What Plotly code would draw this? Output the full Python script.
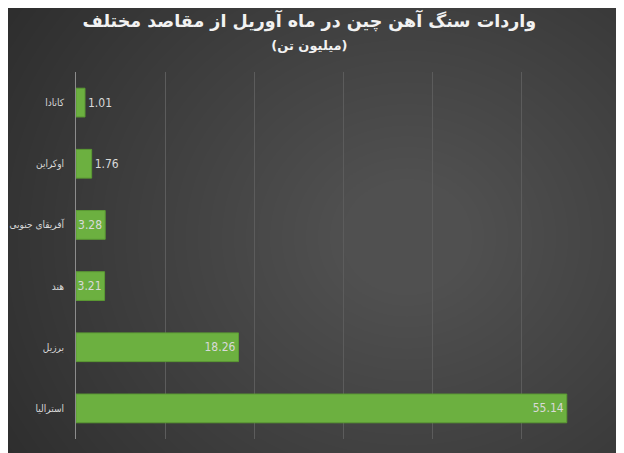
import plotly.graph_objects as go

# countries listed top to bottom as in the chart
countries = ["کانادا", "اوکراین", "آفریقای جنوبی", "هند", "برزیل", "استرالیا"]
imports_mt = [1.01, 1.76, 3.28, 3.21, 18.26, 55.14]
label_pos = ["outside", "outside", "inside", "inside", "inside", "inside"]

TITLE = "واردات سنگ آهن چین در ماه آوریل از مقاصد مختلف"
SUBTITLE = "(میلیون تن)"

FONT = "DejaVu Sans Condensed, DejaVu Sans"

fig = go.Figure()
fig.add_trace(go.Bar(
    x=imports_mt,
    y=countries,
    orientation="h",
    marker=dict(color="#6cb040", line=dict(color="#5b9a33", width=1)),
    text=[f"{v:.2f}" for v in imports_mt],
    textposition=label_pos,
    textangle=0,
    constraintext="none",
    insidetextanchor="end",
    textfont=dict(color="#d9d9d9", size=12, family=FONT),
    outsidetextfont=dict(color="#d9d9d9", size=12, family=FONT),
    cliponaxis=False,
))

"""
background - fake radial gradient with stacked soft circles
"""
shapes = []
n = 40
for i in range(n):
    r = 1.0 - i * 0.9 / n
    shapes.append(dict(
        type="circle", xref="paper", yref="paper", layer="below",
        x0=0.62 - r, x1=0.62 + r, y0=0.55 - r * 1.3, y1=0.55 + r * 1.3,
        fillcolor="rgba(255,255,255,0.0065)", line=dict(width=0),
    ))

fig.update_layout(
    width=624,
    height=453,
    autosize=False,
    paper_bgcolor="#282828",
    plot_bgcolor="rgba(0,0,0,0)",
    shapes=shapes,
    # page seems to sit ~7px off, so margins are nudged
    margin=dict(l=68, r=22, t=64, b=22),
    title=dict(
        text=f"<b>{TITLE}</b><br><span style='font-size:13px'><b>{SUBTITLE}</b></span>",
        x=0.483, xanchor="center", y=0.958, yanchor="top",
        font=dict(family="DejaVu Sans", size=17.5, color="#f2f2f2"),
    ),
    font=dict(family=FONT, color="#d9d9d9", size=11),
    bargap=0.53,
    showlegend=False,
    xaxis=dict(
        range=[0, 60], dtick=10, showticklabels=False,
        showgrid=True, gridcolor="#5c5c5c", gridwidth=1,
        zeroline=False, fixedrange=True, automargin=False,
    ),
    yaxis=dict(
        autorange="reversed", showgrid=False, zeroline=False,
        showline=True, linecolor="#8c8c8c", linewidth=1,
        ticks="", ticklabelstandoff=9, automargin=False,
        tickfont=dict(family=FONT, size=10, color="#d9d9d9"),
    ),
)

fig.write_html("out.html")
